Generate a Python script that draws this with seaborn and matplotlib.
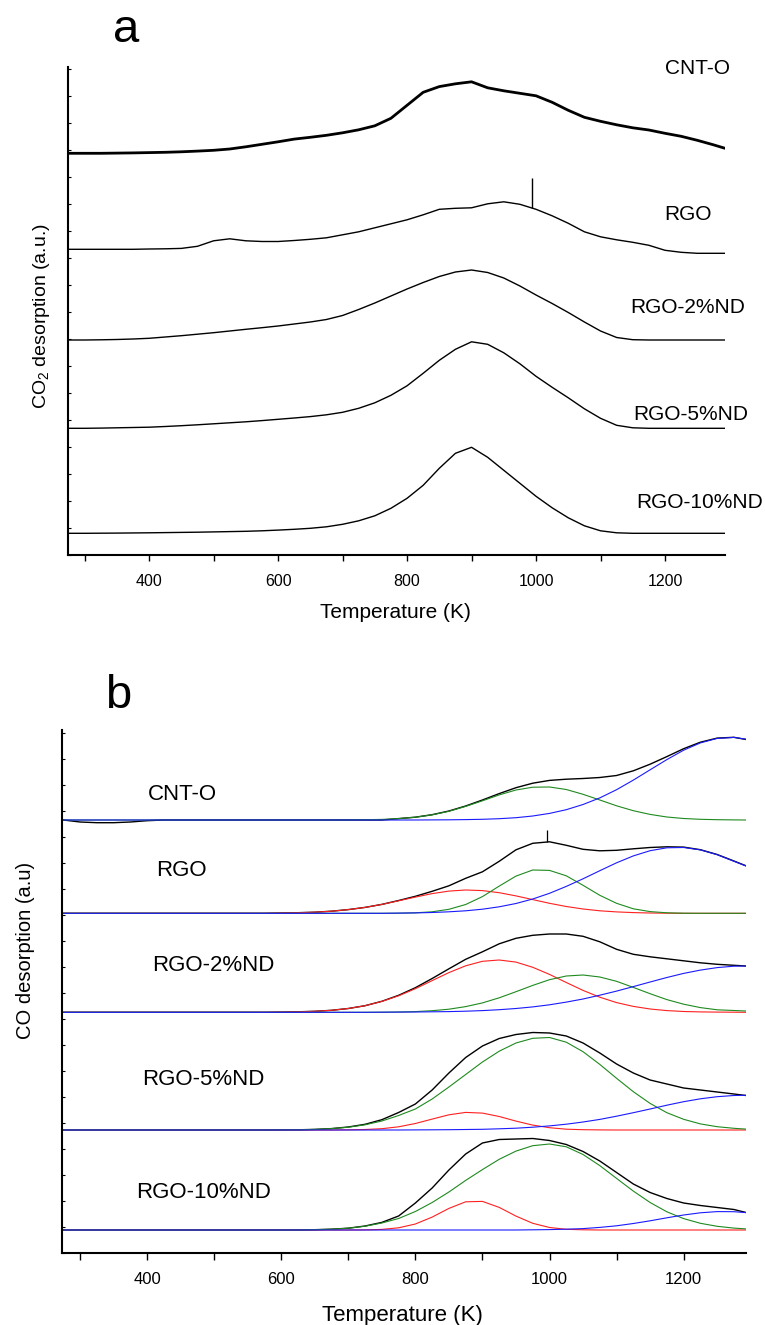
import matplotlib
matplotlib.use("Agg")
import matplotlib.pyplot as plt
from matplotlib.ticker import MultipleLocator
import numpy as np
import seaborn as sns

# ---------------- data ----------------
temps = [275, 300, 325, 350, 375, 400, 425, 450, 475, 500, 525, 550, 575, 600,
         625, 650, 675, 700, 725, 750, 775, 800, 825, 850, 875, 900, 925, 950,
         975, 1000, 1025, 1050, 1075, 1100, 1125, 1150, 1175, 1200, 1225, 1250,
         1275, 1293]

samples = ["CNT-O", "RGO", "RGO-2%ND", "RGO-5%ND", "RGO-10%ND"]

# panel a : CO2 desorption (intensity above each baseline, a.u.)
co2_cnto = [0, 0, 0, 0.2, 0.4, 0.7, 1, 1.5, 2.2, 3, 4.3, 6.5, 9, 11.5, 14.2, 16, 18, 20.5,
            23.5, 27.5, 35, 48, 61, 66.7, 69.5, 71.5, 65.5, 62.5, 60, 57.5, 51, 43, 36, 32,
            28.5, 25.5, 23.3, 20, 17, 13, 8.5, 5]
co2_rgo = [0, 0, 0, 0, 0, 0.3, 0.5, 0.9, 3, 8.5, 10.5, 8.5, 7.8, 7.8, 8.8, 10, 11.5, 14.5,
           17.5, 21.5, 25.5, 29.5, 34.5, 40, 41, 41.5, 45.5, 47.5, 45, 40, 33.5, 26, 17.5,
           12.5, 9.5, 7, 4, -1, -3, -4, -4, -4]
co2_2nd = [0, 0, 0.2, 0.5, 1, 1.7, 3, 4.3, 5.8, 7.3, 9, 10.7, 12.3, 14, 16, 18, 20.5, 24.5,
           30.5, 37, 44, 51, 57.5, 63.5, 68, 70, 67.5, 62, 54, 45, 36.5, 27.5, 18, 9, 2.5,
           0.3, 0, 0, 0, 0, 0, 0]
co2_5nd = [0, 0, 0.2, 0.5, 0.8, 1.1, 1.8, 2.6, 3.5, 4.5, 5.5, 6.5, 7.7, 9, 10.3, 11.7, 13.5,
           16, 20, 25.5, 33, 42.5, 55, 68, 79, 86.5, 84, 75.5, 64.5, 52, 41, 30.5, 19.5, 10,
           3, 0.5, 0, 0, 0, 0, 0, 0]
co2_10nd = [0, 0, 0.1, 0.2, 0.35, 0.5, 0.7, 0.9, 1.1, 1.4, 1.7, 2, 2.5, 3.2, 4, 5, 6.5, 9,
            12.5, 17.5, 25, 35, 48, 65, 80, 86, 76, 63, 50, 37, 25.5, 15.5, 7.5, 2.5, 0.5,
            0, 0, 0, 0, 0, 0, 0]
co2_rgo_spike_T = [993, 993]
co2_rgo_spike_I = [41, 71]

# panel b : CO desorption, measured total + fitted components
co_cnto_tot = [0, -2, -2.7, -2.7, -2, -0.7, 0, 0, 0, 0, 0, 0, 0, 0, 0, 0, 0, 0, 0, 0, 1.4,
               2.8, 5.3, 9, 14, 20, 26.4, 32.3, 36.8, 39.6, 40.8, 41.5, 42.5, 44.5, 49.2,
               55.8, 63.4, 71.3, 77.8, 81.9, 82.7, 80.5]
co_cnto_green = [0, 0, 0, 0, 0, 0, 0, 0, 0, 0, 0, 0, 0, 0, 0, 0, 0, 0.1, 0.3, 0.6, 1.4,
                 2.8, 5.2, 8.7, 13.6, 19.2, 25.1, 30, 32.8, 33, 30.5, 25.7, 20, 14.2, 9.3,
                 5.6, 3, 1.5, 0.7, 0.3, 0.1, 0]
co_cnto_blue = [0, 0, 0, 0, 0, 0, 0, 0, 0, 0, 0, 0, 0, 0, 0, 0, 0, 0, 0, 0, 0, 0, 0.1,
                0.2, 0.4, 0.7, 1.3, 2.3, 4, 6.6, 10.3, 15.5, 22.1, 30.3, 39.9, 50.2, 60.4,
                69.8, 77.1, 81.6, 82.6, 80.8]

co_rgo_tot = [0, 0, 0, 0, 0, 0, 0, 0, 0, 0, 0, 0, 0, 0.3, 0.6, 1.1, 2.1, 3.7, 5.9, 8.9,
              12.8, 17, 22, 27.5, 35, 41.5, 52, 63.5, 70, 71.5, 68, 64, 62.5, 63, 64.5,
              65.8, 66.5, 66.2, 63.6, 58.8, 52.3, 47.5]
co_rgo_red = [0, 0, 0, 0, 0, 0, 0, 0, 0, 0, 0, 0, 0, 0.3, 0.6, 1.1, 2.1, 3.7, 5.9, 8.9,
              12.5, 16.2, 19.7, 22.2, 23.3, 22.7, 20.6, 17.4, 13.7, 10, 6.8, 4.3, 2.5, 1.4,
              0.7, 0.3, 0.1, 0, 0, 0, 0, 0]
co_rgo_green = [0, 0, 0, 0, 0, 0, 0, 0, 0, 0, 0, 0, 0, 0, 0, 0, 0, 0, 0, 0, 0.1, 0.5, 1.5,
                4, 8.8, 16.7, 27.2, 37.2, 43.3, 42.9, 37.5, 28, 18, 10, 4.5, 1.7, 0.5, 0.1,
                0, 0, 0, 0]
co_rgo_blue = [0, 0, 0, 0, 0, 0, 0, 0, 0, 0, 0, 0, 0, 0, 0, 0, 0, 0, 0, 0, 0.2, 0.4, 0.8,
               1.5, 2.5, 4.1, 6.5, 9.8, 14.3, 20, 26.9, 34.5, 42.6, 50.5, 57.4, 62.6, 65.5,
               65.8, 63.4, 58.6, 52, 47.3]
co_rgo_spike_T = [997, 997]
co_rgo_spike_I = [71.5, 83.3]

co_2nd_tot = [0, 0, 0, 0, 0, 0, 0, 0, 0, 0, 0, 0, 0, 0.2, 0.5, 1, 2, 3.8, 6.6, 11, 17, 24.6,
              33.8, 43.5, 53, 60.5, 68.5, 74, 77, 78.3, 78.3, 76, 70.5, 63, 58, 55.5, 53.5,
              51.5, 49.5, 48, 47, 46.3]
co_2nd_red = [0, 0, 0, 0, 0, 0, 0, 0, 0, 0, 0, 0, 0, 0.2, 0.5, 1, 2, 3.8, 6.6, 10.9, 16.5,
              23.6, 31.7, 39.7, 46.5, 51, 52.3, 50.2, 45, 37.9, 29.8, 21.9, 15.1, 9.7, 5.9,
              3.3, 1.7, 0.8, 0.4, 0.2, 0.1, 0]
co_2nd_green = [0, 0, 0, 0, 0, 0, 0, 0, 0, 0, 0, 0, 0, 0, 0, 0, 0, 0, 0, 0.1, 0.3, 0.7, 1.6,
                3.1, 5.7, 9.4, 14.5, 20.6, 26.9, 32.6, 36.3, 37.3, 35.3, 31, 24.9, 18.6,
                12.7, 8.1, 4.7, 2.5, 1.8, 1.3]
co_2nd_blue = [0, 0, 0, 0, 0, 0, 0, 0, 0, 0, 0, 0, 0, 0, 0, 0, 0, 0, 0, 0.1, 0.2, 0.3, 0.5,
               0.7, 1.1, 1.7, 2.6, 3.8, 5.4, 7.5, 10.2, 13.3, 17.1, 21.2, 25.7, 30.3, 34.8,
               38.9, 42.2, 44.7, 46.1, 46.3]

co_5nd_tot = [0, 0, 0, 0, 0, 0, 0, 0, 0, 0, 0, 0, 0, 0.1, 0.2, 0.6, 1.4, 3, 5.7, 10.3, 17.5,
              26, 40, 57, 72.5, 84, 91.5, 95.5, 97.5, 97, 94, 87, 77, 66, 57, 50, 46, 42, 40,
              38, 36, 34.5]
co_5nd_red = [0, 0, 0, 0, 0, 0, 0, 0, 0, 0, 0, 0, 0, 0, 0, 0, 0, 0.2, 0.5, 1.3, 3.2, 6.5,
              10.9, 15.2, 17.6, 16.9, 13.5, 8.9, 4.9, 2.3, 0.8, 0.3, 0.1, 0, 0, 0, 0, 0, 0,
              0, 0, 0]
co_5nd_green = [0, 0, 0, 0, 0, 0, 0, 0, 0, 0, 0, 0, 0, 0.1, 0.2, 0.6, 1.4, 2.8, 5.2, 9,
                14.5, 21, 31, 43, 55.5, 68, 78.8, 87, 91.7, 92.5, 87.8, 78.3, 65.6, 51.7,
                38.3, 26.6, 17.3, 10.7, 6.1, 3.3, 1.7, 0.9]
co_5nd_blue = [0, 0, 0, 0, 0, 0, 0, 0, 0, 0, 0, 0, 0, 0, 0, 0, 0, 0, 0, 0, 0, 0.1, 0.2,
               0.3, 0.5, 0.7, 1.2, 1.8, 2.8, 4.1, 5.8, 8, 10.6, 13.8, 17.3, 21, 24.8, 28.3,
               31.2, 33.3, 34.5, 34.7]

co_10nd_tot = [0, 0, 0, 0, 0, 0, 0, 0, 0, 0, 0, 0, 0, 0, 0, 0.3, 0.8, 1.8, 4, 7.6, 14, 27,
               42, 60, 76, 87, 90.5, 91, 91.5, 89.5, 85.5, 78.5, 69, 57.5, 46, 37.5, 31.5,
               27, 24.5, 22.5, 20.5, 17.5]
co_10nd_red = [0, 0, 0, 0, 0, 0, 0, 0, 0, 0, 0, 0, 0, 0, 0, 0, 0, 0, 0.1, 0.6, 2.2, 6,
               12.9, 21.6, 28.2, 28.6, 22.6, 13.9, 6.7, 2.5, 0.7, 0.2, 0, 0, 0, 0, 0, 0, 0,
               0, 0, 0]
co_10nd_green = [0, 0, 0, 0, 0, 0, 0, 0, 0, 0, 0, 0, 0, 0, 0, 0.3, 0.8, 1.8, 3.8, 7, 11.5,
                 18.5, 27.5, 38, 49.6, 60.4, 70.7, 78.9, 84.3, 86, 83.2, 75.5, 64.4, 51.6,
                 38.9, 27.5, 18.2, 11.4, 6.7, 3.7, 1.9, 1.1]
co_10nd_blue = [0, 0, 0, 0, 0, 0, 0, 0, 0, 0, 0, 0, 0, 0, 0, 0, 0, 0, 0, 0, 0, 0, 0, 0, 0,
                0, 0, 0, 0.2, 0.4, 0.8, 1.4, 2.6, 4.2, 6.5, 9.2, 12.2, 15, 17.2, 18.4, 18.3,
                17.4]

# ---------------- layout / style ----------------
offsets_a = [401.7, 305.7, 215, 126.7, 21.7]
offsets_b = [433.3, 340, 241, 123.3, 23.3]

sns.set_theme(style="ticks", rc={
    "axes.edgecolor": "black", "xtick.color": "black", "ytick.color": "black",
    "text.color": "black", "axes.labelcolor": "black", "axes.facecolor": "white",
    "figure.facecolor": "white"})
plt.rcParams['font.family'] = ['Liberation Sans', 'DejaVu Sans']
plt.rcParams['mathtext.fontset'] = 'custom'
plt.rcParams['mathtext.rm'] = 'Liberation Sans'
plt.rcParams['mathtext.it'] = 'Liberation Sans:italic'

W, H = 765, 1325
fig = plt.figure(figsize=(W / 100, H / 100), dpi=100)


def px_axes(l, t, r, b):
    return fig.add_axes([l / W, 1 - b / H, (r - l) / W, (b - t) / H])


axa = px_axes(67.5, 66.7, 725, 555)
axb = px_axes(62.3, 730, 746, 1253.3)

T = np.array(temps)


def draw(ax, vals, base, color, lw):
    sns.lineplot(x=T, y=np.array(vals) + base, ax=ax, color=color, linewidth=lw,
                 estimator=None, sort=False, legend=False)


# panel a
a_series = [co2_cnto, co2_rgo, co2_2nd, co2_5nd, co2_10nd]
for i, vals in enumerate(a_series):
    draw(axa, vals, offsets_a[i], "black", 2.0 if i == 0 else 1.0)
axa.vlines(co2_rgo_spike_T[0], co2_rgo_spike_I[0] + offsets_a[1],
           co2_rgo_spike_I[1] + offsets_a[1], color="black", lw=1.0)

# panel b
RED, GREEN, BLUE = "#ff2020", "#1f8a1f", "#1a1aff"
b_tot = [co_cnto_tot, co_rgo_tot, co_2nd_tot, co_5nd_tot, co_10nd_tot]
b_red = [None, co_rgo_red, co_2nd_red, co_5nd_red, co_10nd_red]
b_green = [co_cnto_green, co_rgo_green, co_2nd_green, co_5nd_green, co_10nd_green]
b_blue = [co_cnto_blue, co_rgo_blue, co_2nd_blue, co_5nd_blue, co_10nd_blue]
for i in range(5):
    draw(axb, b_tot[i], offsets_b[i], "black", 1.0)
    if b_red[i] is not None:
        draw(axb, b_red[i], offsets_b[i], RED, 0.8)
    draw(axb, b_green[i], offsets_b[i], GREEN, 0.8)
    draw(axb, b_blue[i], offsets_b[i], BLUE, 0.8)
axb.vlines(co_rgo_spike_T[0], co_rgo_spike_I[0] + offsets_b[1],
           co_rgo_spike_I[1] + offsets_b[1], color="black", lw=0.9)

axa.set_ylim(0, 488.3)
axb.set_ylim(0, 523.3)

for ax, tl, pad, lsize in ((axa, 4.2, 9.5, 11.5), (axb, 4.8, 8.7, 12)):
    ax.set_xlim(273.5, 1293)
    sns.despine(ax=ax)
    ax.spines['left'].set_linewidth(1.5)
    ax.spines['bottom'].set_linewidth(1.5)
    ax.xaxis.set_major_locator(MultipleLocator(200))
    ax.xaxis.set_minor_locator(MultipleLocator(100))
    ax.tick_params(axis='x', which='both', direction='out', length=tl, width=1.0,
                   pad=pad, labelsize=lsize)
    ax.yaxis.set_major_locator(MultipleLocator(27 if ax is axa else 26))
    ax.tick_params(axis='y', which='major', direction='in', length=2.5, width=0.8,
                   labelleft=False)
    ax.grid(False)
    ax.set_xlabel("")
    ax.set_ylabel("")

axa.set_xlabel("Temperature (K)", fontsize=15)
axa.xaxis.set_label_coords(0.499, -0.098)
axb.set_xlabel("Temperature (K)", fontsize=16)
axb.xaxis.set_label_coords(0.498, -0.099)

axa.set_ylabel("CO$_2$ desorption (a.u.)", fontsize=14)
axa.yaxis.set_label_coords(-0.024, 0.489)
axb.set_ylabel("CO desorption (a.u)", fontsize=14.5)
axb.yaxis.set_label_coords(-0.040, 0.578)

# sample labels
a_label_pos = [(698, 74.5), (688, 219.5), (688, 312.5), (691, 420.5), (700, 508.5)]
b_label_pos = [(182, 800), (181, 876), (213, 971), (203, 1085), (204, 1198)]
for name, (x, y) in zip(samples, a_label_pos):
    fig.text(x / W, 1 - y / H, name, ha="center", va="baseline", fontsize=15)
for name, (x, y) in zip(samples, b_label_pos):
    fig.text(x / W, 1 - y / H, name, ha="center", va="baseline", fontsize=16)

fig.text(126 / W, 1 - 42 / H, "a", ha="center", va="baseline", fontsize=34)
fig.text(118 / W, 1 - 708 / H, "b", ha="center", va="baseline", fontsize=34)

fig.savefig("out.png", dpi=100)
